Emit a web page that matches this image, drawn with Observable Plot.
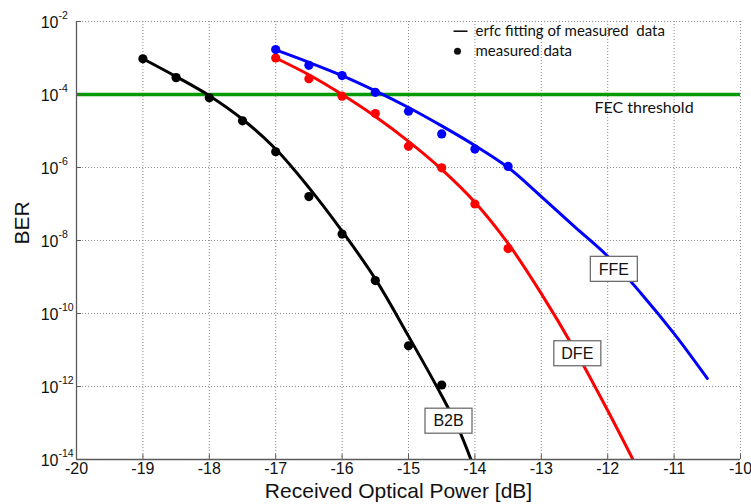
<!DOCTYPE html>
<html><head><meta charset="utf-8">
<script src="https://cdn.jsdelivr.net/npm/d3@7"></script>
<script src="https://cdn.jsdelivr.net/npm/@observablehq/plot@0.6"></script>
<style>body{margin:0;background:#fff} svg{display:block}</style>
</head><body><div id="chart"></div>
<script>
// ---- tick definitions ----
const xTicks = [-20, -19, -18, -17, -16, -15, -14, -13, -12, -11, -10];
const xTickLabels = ["-20", "-19", "-18", "-17", "-16", "-15", "-14", "-13", "-12", "-11", "-10"];
const yTicks = [1e-2, 1e-4, 1e-6, 1e-8, 1e-10, 1e-12, 1e-14];
const yTickBase = "10";
const yTickExponents = ["-2", "-4", "-6", "-8", "-10", "-12", "-14"];

// ---- measured data ----
const b2bPower = [-19, -18.5, -18, -17.5, -17, -16.5, -16, -15.5, -15, -14.5];
const b2bBER = [9.5e-4, 2.9e-4, 8.1e-5, 1.9e-5, 2.7e-6, 1.6e-7, 1.5e-8, 8e-10, 1.3e-11, 1.1e-12];
const dfePower = [-17, -16.5, -16, -15.5, -15, -14.5, -14, -13.5];
const dfeBER = [1.0e-3, 2.7e-4, 9e-5, 3e-5, 3.8e-6, 9.8e-7, 1e-7, 6e-9];
const ffePower = [-17, -16.5, -16, -15.5, -15, -14.5, -14, -13.5];
const ffeBER = [1.7e-3, 6.3e-4, 3.3e-4, 1.15e-4, 3.5e-5, 8.3e-6, 3.2e-6, 1.07e-6];

// ---- erfc fitted curves ----
const b2bFitPower = [-19, -18.5, -18, -17.5, -17, -16.5, -16, -15.5, -15, -14.5, -14.25, -14.06];
const b2bFitBER = [9.55e-4, 3.1e-4, 9.3e-5, 2.1e-5, 3.2e-6, 2.8e-7, 1.8e-8, 8.9e-10, 2.4e-11, 5.6e-13, 7.1e-14, 1e-14];
const dfeFitPower = [-17, -16.5, -16, -15.5, -15, -14.5, -14, -13.5, -13, -12.5, -12, -11.62];
const dfeFitBER = [1e-3, 3.47e-4, 1e-4, 2.5e-5, 5.2e-6, 8.9e-7, 1.12e-7, 8.3e-9, 3.5e-10, 1.05e-11, 2.2e-13, 1e-14];
const ffeFitPower = [-17, -16.5, -16, -15.5, -15, -14.5, -14, -13.5, -13, -12.5, -12, -11.5, -11, -10.5];
const ffeFitBER = [1.66e-3, 7.6e-4, 3.3e-4, 1.26e-4, 4.4e-5, 1.38e-5, 4e-6, 1e-6, 1.6e-7, 2.4e-8, 3.7e-9, 3.6e-10, 2.8e-11, 1.66e-12];

const fecThreshold = 1e-4;
const fecLabel = "FEC threshold";
const legendFitLabel = "erfc fitting of measured\u00a0 data";
const legendDotLabel = "measured data";

const curveLabels = ["B2B", "DFE", "FFE"];
const curveLabelPower = [-14.39, -12.45, -11.90];
const curveLabelBER = [1.12e-13, 7.9e-12, 1.62e-9];

// ---- tables ----
const zip = (xs, ys) => xs.map((x, i) => ({x, y: ys[i]}));
const b2b = zip(b2bPower, b2bBER), dfe = zip(dfePower, dfeBER), ffe = zip(ffePower, ffeBER);
const b2bFit = zip(b2bFitPower, b2bFitBER), dfeFit = zip(dfeFitPower, dfeFitBER), ffeFit = zip(ffeFitPower, ffeFitBER);
const labels = curveLabels.map((t, i) => ({t, x: curveLabelPower[i], y: curveLabelBER[i]}));

const GREEN = "#069a06", RED = "#ff0000", BLUE = "#0000ff", BLACK = "#000000";
const GRID = {stroke: "#8c8c8c", strokeOpacity: 1, strokeDasharray: "1 2", strokeWidth: 1};
const SANS = "Liberation Sans";
const CAL = "Lato";
const marginLeft = 76, marginRight = 11, marginTop = 21, marginBottom = 45;
const W = 751, H = 504;
const frameW = W - marginLeft - marginRight, frameH = H - marginTop - marginBottom;

// short horizontal dash used as the legend's line swatch
const dashSymbol = {draw(ctx) { ctx.moveTo(-7, 0); ctx.lineTo(7, 0); }};

function boxedLabels(data) {
  return (index, scales) => {
    const g = d3.create("svg:g");
    for (const d of data) {
      const cx = scales.x(d.x), cy = scales.y(d.y);
      g.append("rect").attr("x", cx - 23.5).attr("y", cy - 12.5).attr("width", 47).attr("height", 25)
        .attr("fill", "white").attr("stroke", "#6e6e6e").attr("stroke-width", 1.3);
      g.append("text").attr("x", cx).attr("y", cy).attr("dy", "0.36em").attr("text-anchor", "middle")
        .attr("font-family", SANS).attr("font-size", 16).attr("fill", "#111").text(d.t);
    }
    return g.node();
  };
}

const chart = Plot.plot({
  width: W, height: H,
  marginLeft, marginRight, marginTop, marginBottom,
  style: {fontFamily: SANS, background: "white", color: "#111"},
  x: {domain: [-20, -10], axis: null},
  y: {type: "log", domain: [1e-14, 1e-2], axis: null},
  marks: [
    Plot.gridX(xTicks, GRID),
    Plot.gridY(yTicks, GRID),
    Plot.ruleY([fecThreshold], {stroke: GREEN, strokeWidth: 3.5}),
    Plot.line(b2bFit, {x: "x", y: "y", stroke: BLACK, strokeWidth: 3, curve: "catmull-rom", clip: true}),
    Plot.line(dfeFit, {x: "x", y: "y", stroke: RED, strokeWidth: 3, curve: "catmull-rom", clip: true}),
    Plot.line(ffeFit, {x: "x", y: "y", stroke: BLUE, strokeWidth: 3, curve: "catmull-rom", clip: true}),
    Plot.dot(b2b, {x: "x", y: "y", r: 4.6, fill: BLACK}),
    Plot.dot(dfe, {x: "x", y: "y", r: 4.6, fill: RED}),
    Plot.dot(ffe, {x: "x", y: "y", r: 4.6, fill: BLUE}),
    // axis lines and inward ticks
    Plot.ruleX([-20], {stroke: "#5a5a5a", strokeWidth: 1.3}),
    Plot.ruleY([1e-14], {stroke: "#5a5a5a", strokeWidth: 1.3}),
    Plot.tickX(xTicks, {x: d => d, stroke: "#5a5a5a", insetTop: frameH - 5}),
    Plot.tickY(yTicks, {y: d => d, stroke: "#5a5a5a", insetRight: frameW - 5}),
    // tick labels
    Plot.text(xTicks, {x: d => d, frameAnchor: "bottom", text: (d, i) => xTickLabels[i], lineAnchor: "top", dy: 3, fontSize: 16, fontFamily: SANS, fill: "#111"}),
    Plot.text(yTicks, {y: d => d, frameAnchor: "left", text: () => yTickBase, textAnchor: "end", lineAnchor: "middle", dx: -18, dy: 1, fontSize: 16, fontFamily: SANS, fill: "#111"}),
    Plot.text(yTicks, {y: d => d, frameAnchor: "left", text: (d, i) => yTickExponents[i], textAnchor: "start", lineAnchor: "middle", dx: -18, dy: -6, fontSize: 10.5, fontFamily: SANS, fill: "#111"}),
    // axis titles
    Plot.text(["Received Optical Power [dB]"], {frameAnchor: "bottom", lineAnchor: "middle", dx: -10, dy: 32, fontSize: 21, fontFamily: SANS, fill: "#111"}),
    Plot.text(["BER"], {frameAnchor: "left", rotate: -90, lineAnchor: "middle", dx: -54, dy: 4, fontSize: 21, fontFamily: SANS, fill: "#111"}),
    // legend + FEC label
    Plot.dot([0], {frameAnchor: "top-left", dx: 384, dy: 9.7, symbol: dashSymbol, r: 4, fill: "none", stroke: "#111", strokeWidth: 1.6}),
    Plot.text([legendFitLabel], {frameAnchor: "top-left", textAnchor: "start", lineAnchor: "middle", dx: 399, dy: 9.5, fontSize: 15, fontFamily: CAL, fill: "#111"}),
    Plot.dot([0], {frameAnchor: "top-left", dx: 381, dy: 29.7, r: 3.5, fill: "#111"}),
    Plot.text([legendDotLabel], {frameAnchor: "top-left", textAnchor: "start", lineAnchor: "middle", dx: 399, dy: 29.5, fontSize: 15, fontFamily: CAL, fill: "#111"}),
    Plot.text([fecLabel], {frameAnchor: "top-left", textAnchor: "start", lineAnchor: "middle", dx: 518, dy: 86, fontSize: 16, fontFamily: CAL, fill: "#111"}),
    boxedLabels(labels)
  ]
});
document.getElementById("chart").appendChild(chart);
</script>
</body></html>
